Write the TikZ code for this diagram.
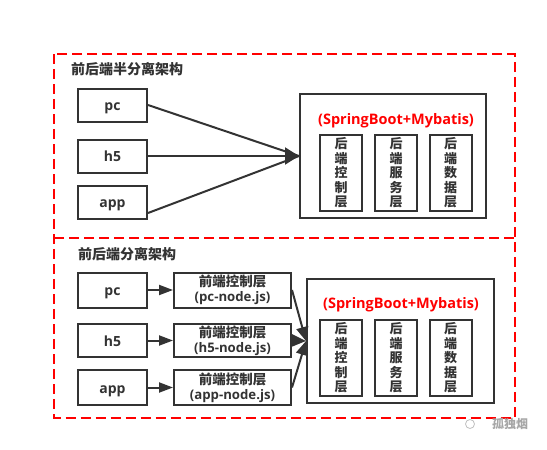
\documentclass[tikz,border=0pt]{standalone}
\usepackage{fontspec}
\setmainfont{Open Sans}
\newfontfamily\cjk{Noto Sans CJK SC}
\usetikzlibrary{arrows.meta}
\definecolor{ink}{HTML}{333333}
\definecolor{redd}{HTML}{FF0000}
\tikzset{
  box/.style={draw=ink, line width=2pt, text=ink, font=\bfseries\fontsize{14}{16}\selectfont, inner sep=0pt, minimum width=69pt, minimum height=33pt, text height=14pt, text depth=3pt},
  midbox/.style={draw=ink, line width=2pt, text=ink, inner sep=0pt, minimum width=117pt, minimum height=33pt, align=center, font=\bfseries\fontsize{13.2}{15}\selectfont},
  bigbox/.style={draw=ink, line width=2pt, minimum width=186pt, minimum height=124pt, inner sep=0pt},
  layerbox/.style={draw=ink, line width=2pt, text=ink, minimum width=42pt, minimum height=76pt, inner sep=0pt, align=center, font=\cjk\bfseries\fontsize{13}{14.5}\selectfont},
  redtxt/.style={text=redd, font=\bfseries\fontsize{14.5}{16}\selectfont, inner sep=0pt},
  title/.style={text=ink, font=\cjk\bfseries\fontsize{14}{16}\selectfont, inner sep=0pt, anchor=west},
  conn/.style={draw=ink, line width=2pt},
  bigarrow/.style={conn, -{Triangle[length=14pt,width=17pt]}},
  midarrow/.style={conn, -{Triangle[length=14pt,width=12pt]}},
  smallarrow/.style={conn, -{Triangle[length=14pt,width=10pt]}},
  frame/.style={draw=redd, line width=2pt, dash pattern=on 10pt off 5pt},
}
\begin{document}
\begin{tikzpicture}[x=1pt,y=-1pt]
\useasboundingbox (0,0) rectangle (547,450);
% outer frame
\draw[frame] (54,54) rectangle (514.5,417.5);
\draw[frame] (54,238) -- (514.5,238);
% top section
\node[title] (t1) at (71,69) {前后端半分离架构};
\node[box] (pcA) at (112.5,105) {pc};
\node[box] (hA) at (112.5,156) {h5};
\node[box] (appA) at (112.5,202) {app};
\node[bigbox] (bigA) at (393,156) {};
\node[redtxt] (rA) at (396,121) {(SpringBoot+Mybatis)};
\node[layerbox] (lA1) at (341,173) {后\\端\\控\\制\\层};
\node[layerbox] (lA2) at (396,173) {后\\端\\服\\务\\层};
\node[layerbox] (lA3) at (450.7,173) {后\\端\\数\\据\\层};
\draw[conn] (pcA.east) -- (bigA.west);
\draw[conn] ([yshift=-11pt]appA.east) -- (bigA.west);
\draw[bigarrow] (hA.east) -- (bigA.west);
% bottom section
\node[title] (t2) at (78,254) {前后端分离架构};
\node[box, minimum height=35pt] (pcB) at (112.5,290) {pc};
\node[box] (hB) at (112.5,340.5) {h5};
\node[box, minimum height=35pt] (appB) at (112.5,387.5) {app};
\node[midbox, minimum height=35pt] (nB1) at (232.5,290) {{\cjk\fontsize{13.5}{15}\selectfont 前端控制层}\\(pc-node.js)};
\node[midbox] (nB2) at (232.5,340.5) {{\cjk\fontsize{13.5}{15}\selectfont 前端控制层}\\(h5-node.js)};
\node[midbox, minimum height=35pt] (nB3) at (232.5,387.5) {{\cjk\fontsize{13.5}{15}\selectfont 前端控制层}\\(app-node.js)};
\node[bigbox, minimum width=187pt] (bigB) at (400.5,341) {};
\node[redtxt] (rB) at (401,305) {(SpringBoot+Mybatis)};
\node[layerbox] (lB1) at (341,358) {后\\端\\控\\制\\层};
\node[layerbox] (lB2) at (396,358) {后\\端\\服\\务\\层};
\node[layerbox] (lB3) at (450.7,358) {后\\端\\数\\据\\层};
\draw[smallarrow] (pcB.east) -- (nB1.west);
\draw[smallarrow] (hB.east) -- (nB2.west);
\draw[smallarrow] (appB.east) -- (nB3.west);
\draw[midarrow] (nB1.east) -- (bigB.west);
\draw[midarrow] (nB3.east) -- (bigB.west);
\draw[midarrow] (nB2.east) -- (bigB.west);
% watermark
\node[text=black!35, font=\cjk\bfseries\fontsize{12}{14}\selectfont, inner sep=0pt] (wm) at (510,424) {孤独烟};
\node[draw=black!25, line width=0.8pt, circle, minimum size=9pt, inner sep=0pt] (wmi) at (470,424) {};
\end{tikzpicture}
\end{document}
